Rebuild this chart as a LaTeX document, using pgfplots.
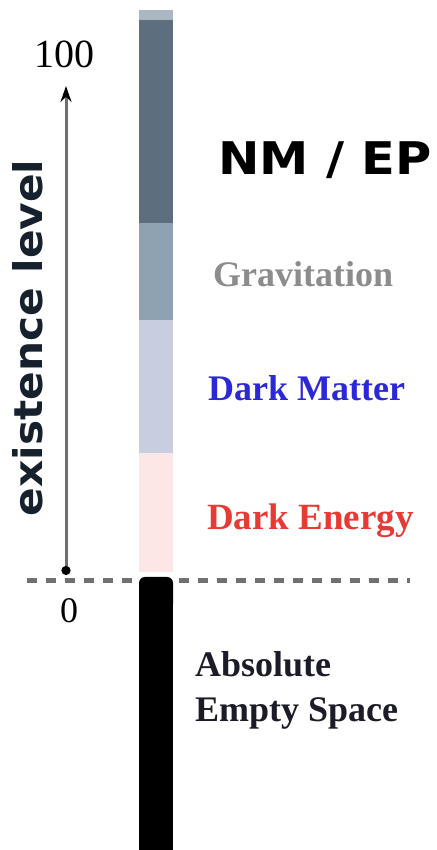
\documentclass[border=0pt]{standalone}
\usepackage{pgfplots}
\pgfplotsset{compat=1.18}
\usepackage{fontspec}
\usepackage{graphicx}
\usetikzlibrary{arrows.meta}
\setmainfont{Liberation Serif}
\newfontfamily\dejavub{DejaVu Sans}[BoldFont={DejaVu Sans Bold}]
\definecolor{capc}{HTML}{AAB7C2}
\definecolor{darkc}{HTML}{5D6F7E}
\definecolor{medc}{HTML}{8EA2B2}
\definecolor{lavc}{HTML}{C8CEE0}
\definecolor{pinkc}{HTML}{FDE6E6}
\definecolor{gravc}{HTML}{8C8C8C}
\definecolor{bluec}{HTML}{2B28D8}
\definecolor{redc}{HTML}{E83A35}
\definecolor{navyc}{HTML}{17212D}
\definecolor{absc}{HTML}{1C1C28}
\definecolor{dashc}{HTML}{707070}
\definecolor{arrc}{HTML}{6F6F6F}
\begin{document}
\begin{tikzpicture}
\begin{axis}[
  scale only axis, width=436pt, height=850pt,
  xmin=0, xmax=436, ymin=-850, ymax=0,
  hide axis,
]
\coordinate (BL) at (axis cs:0,-850);
\coordinate (TR) at (axis cs:436,0);
% dashed zero line
\addplot[draw=dashc, line width=5pt, dash pattern=on 10pt off 9pt] coordinates {(27,-581) (410,-581)};
% bar segments
\addplot[fill=capc, draw=none] coordinates {(139,-10) (173,-10) (173,-20) (139,-20)} --cycle;
\addplot[fill=darkc, draw=none] coordinates {(139,-20) (173,-20) (173,-223) (139,-223)} --cycle;
\addplot[fill=medc, draw=none] coordinates {(139,-223) (173,-223) (173,-320) (139,-320)} --cycle;
\addplot[fill=lavc, draw=none] coordinates {(139,-320) (173,-320) (173,-453) (139,-453)} --cycle;
\addplot[fill=pinkc, draw=none] coordinates {(139,-453) (173,-453) (173,-572) (139,-572)} --cycle;
\addplot[fill=black, draw=none, rounded corners=6pt] coordinates {(139,-577) (173,-577) (173,-610) (139,-610)} --cycle;
\addplot[fill=black, draw=none] coordinates {(139,-590) (173,-590) (173,-850) (139,-850)} --cycle;
% existence level arrow
\addplot[draw=arrc, line width=3pt, {Circle[length=9pt,fill=black,color=black]}-{Stealth[length=16pt,width=11pt,color=black]}] coordinates {(66,-575) (66,-86)};
% texts
\node[anchor=base, inner sep=0pt] at (axis cs:64,-68) {\fontsize{40}{44}\selectfont 100};
\node[anchor=base, inner sep=0pt] at (axis cs:69,-623) {\fontsize{36}{40}\selectfont 0};
\node[anchor=base, rotate=90, inner sep=0pt, text=navyc] at (axis cs:42,-338) {\scalebox{1.07}[1]{\dejavub\bfseries\fontsize{39.5}{44}\selectfont existence level}};
\node[anchor=base west, inner sep=0pt] at (axis cs:218,-175) {\scalebox{1.1}[1]{\dejavub\bfseries\fontsize{45}{50}\selectfont NM / EP}};
\node[anchor=base west, inner sep=0pt, text=gravc] at (axis cs:213,-287) {\bfseries\fontsize{36}{40}\selectfont Gravitation};
\node[anchor=base west, inner sep=0pt, text=bluec] at (axis cs:208,-401) {\bfseries\fontsize{36}{40}\selectfont Dark Matter};
\node[anchor=base west, inner sep=0pt, text=redc] at (axis cs:207,-530) {\bfseries\fontsize{37}{40}\selectfont Dark Energy};
\node[anchor=base west, inner sep=0pt, text=absc] at (axis cs:195,-677) {\bfseries\fontsize{36}{40}\selectfont Absolute};
\node[anchor=base west, inner sep=0pt, text=absc] at (axis cs:195,-722) {\bfseries\fontsize{36}{40}\selectfont Empty Space};
\end{axis}
\pgfresetboundingbox
\path[use as bounding box] (BL) rectangle (TR);
\end{tikzpicture}
\end{document}
